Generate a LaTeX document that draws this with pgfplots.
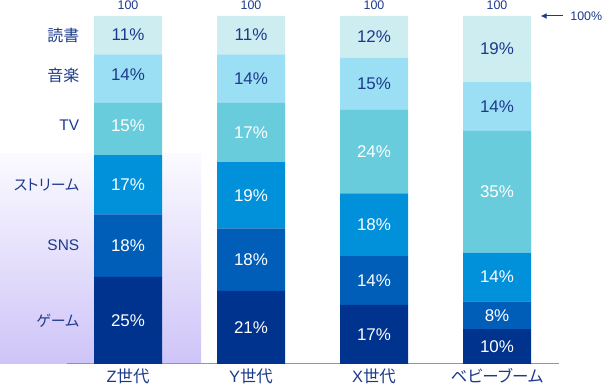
\documentclass[border=0pt]{standalone}
\usepackage{pgfplots}
\pgfplotsset{compat=1.18}
\usepackage{fontspec}
\setmainfont{Liberation Sans}
\newfontfamily\cjk[RawFeature=+palt]{Noto Sans CJK JP}
\usetikzlibrary{arrows.meta}
\definecolor{cGame}{RGB}{0,51,141}
\definecolor{cSNS}{RGB}{0,94,184}
\definecolor{cStream}{RGB}{0,145,218}
\definecolor{cTV}{RGB}{104,204,220}
\definecolor{cMusic}{RGB}{155,223,245}
\definecolor{cRead}{RGB}{206,237,241}
\definecolor{txt}{RGB}{28,58,140}
\definecolor{lavTop}{RGB}{251,250,255}
\definecolor{lavBot}{RGB}{206,196,248}
\definecolor{base}{RGB}{150,150,150}
\tikzset{pl/.style={text=white, font=\fontsize{17}{18}\selectfont},
         pd/.style={text=txt, font=\fontsize{17}{18}\selectfont},
         ll/.style={anchor=east, text=txt, font=\fontsize{15.5}{17}\selectfont},
         tl/.style={text=txt, font=\fontsize{12.5}{14}\selectfont}}
\pgfplotsset{common/.style={
  at={(66.5bp,26bp)}, anchor=south west,
  scale only axis, width=492bp, height=348bp,
  xmin=-0.5, xmax=3.5, ymin=0, ymax=100, clip=false}}
\begin{document}
\begin{tikzpicture}
\useasboundingbox (0,0) rectangle (602bp,390bp);
\fill[top color=lavTop, bottom color=lavBot] (0bp,26bp) rectangle (201bp,236bp);
\begin{axis}[
  common,
  ybar stacked, bar width=68bp,
  hide y axis,
  axis x line*=bottom,
  x axis line style={draw=base, line width=1bp},
  xtick={0,1,2,3},
  xticklabels={Z{\cjk 世代}, Y{\cjk 世代}, X{\cjk 世代}, {\cjk ベビーブーム}},
  xtick style={draw=none},
  xticklabel style={font=\fontsize{16.5}{18}\selectfont, text=txt, yshift=-1bp},
]
\addplot[fill=cGame, draw=none] coordinates {(0,25) (1,21) (2,17) (3,10)};
\addplot[fill=cSNS, draw=none] coordinates {(0,18) (1,18) (2,14) (3,8)};
\addplot[fill=cStream, draw=none] coordinates {(0,17) (1,19) (2,18) (3,14)};
\addplot[fill=cTV, draw=none] coordinates {(0,15) (1,17) (2,24) (3,35)};
\addplot[fill=cMusic, draw=none] coordinates {(0,14) (1,14) (2,15) (3,14)};
\addplot[fill=cRead, draw=none] coordinates {(0,11) (1,11) (2,12) (3,19)};
\end{axis}
\begin{axis}[common, hide axis]
% segment value labels
\node[pl] at (axis cs:0,12.5) {25\%};
\node[pl] at (axis cs:0,34) {18\%};
\node[pl] at (axis cs:0,51.5) {17\%};
\node[pl] at (axis cs:0,68.5) {15\%};
\node[pd] at (axis cs:0,83) {14\%};
\node[pd] at (axis cs:0,94.5) {11\%};
\node[pl] at (axis cs:1,10.5) {21\%};
\node[pl] at (axis cs:1,30) {18\%};
\node[pl] at (axis cs:1,48.5) {19\%};
\node[pl] at (axis cs:1,66.5) {17\%};
\node[pd] at (axis cs:1,82) {14\%};
\node[pd] at (axis cs:1,94.5) {11\%};
\node[pl] at (axis cs:2,8.5) {17\%};
\node[pl] at (axis cs:2,24) {14\%};
\node[pl] at (axis cs:2,40) {18\%};
\node[pl] at (axis cs:2,61) {24\%};
\node[pd] at (axis cs:2,80.5) {15\%};
\node[pd] at (axis cs:2,94) {12\%};
\node[pl] at (axis cs:3,5) {10\%};
\node[pl] at (axis cs:3,14) {8\%};
\node[pl] at (axis cs:3,25) {14\%};
\node[pl] at (axis cs:3,49.5) {35\%};
\node[pd] at (axis cs:3,74) {14\%};
\node[pd] at (axis cs:3,90.5) {19\%};
% segment names on the left
\node[ll, font=\fontsize{15}{16}\selectfont] at (axis cs:-0.368,12.5) {\cjk ゲーム};
\node[ll] at (axis cs:-0.368,34) {SNS};
\node[ll, font=\fontsize{15}{16}\selectfont] at (axis cs:-0.368,51.5) {\cjk ストリーム};
\node[ll] at (axis cs:-0.368,68.5) {TV};
\node[ll, font=\fontsize{16}{18}\selectfont] at (axis cs:-0.368,83) {\cjk 音楽};
\node[ll, font=\fontsize{16}{18}\selectfont] at (axis cs:-0.368,94.5) {\cjk 読書};
% totals
\node[tl] at (axis cs:0,103.2) {100};
\node[tl] at (axis cs:1,103.2) {100};
\node[tl] at (axis cs:2,103.2) {100};
\node[tl] at (axis cs:3,103.2) {100};
\draw[txt, line width=1bp, -{Latex[length=6bp,width=6bp]}] (axis cs:3.535,100) -- (axis cs:3.355,100);
\node[tl, anchor=west, inner sep=0pt] at (axis cs:3.595,100) {100\%};
\end{axis}
\end{tikzpicture}
\end{document}
